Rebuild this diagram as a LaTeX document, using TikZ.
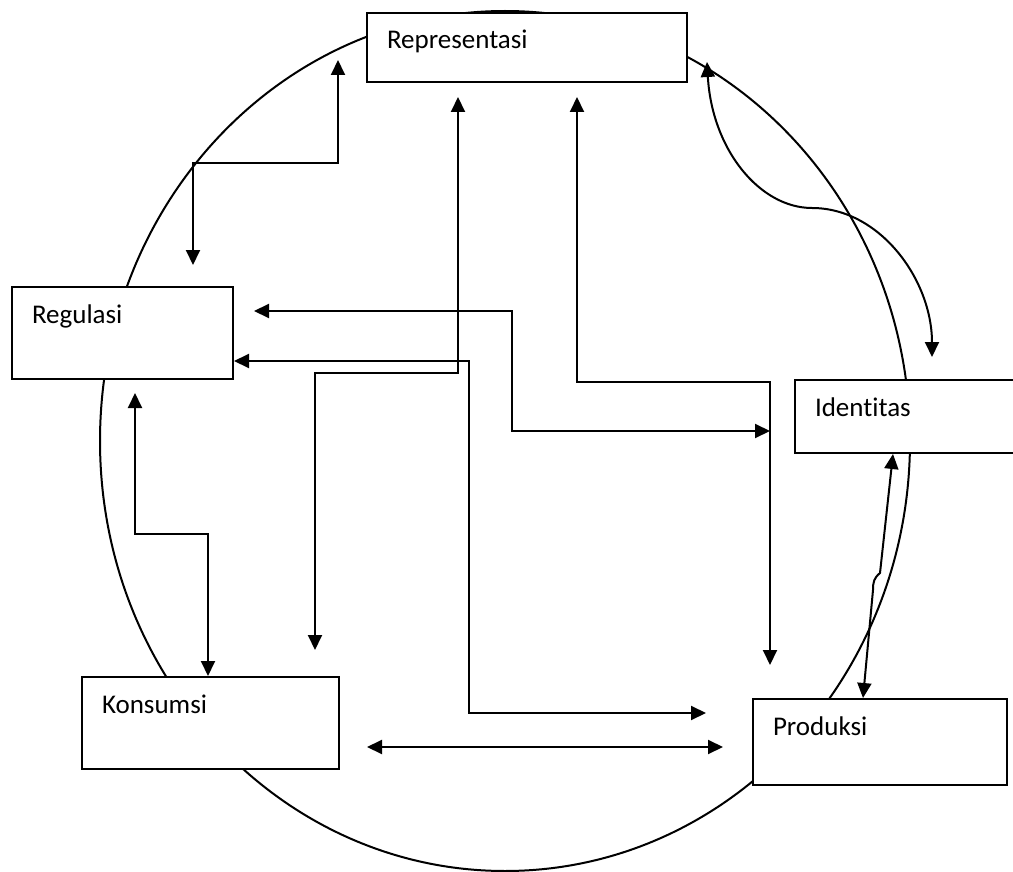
\documentclass[tikz,border=0pt]{standalone}
\usepackage{fontspec}
\setmainfont{Carlito}[Ligatures=NoCommon]
\usetikzlibrary{arrows.meta}
\tikzset{
  kotak/.style={draw,fill=white,line width=2pt,anchor=north west,align=left,
    inner xsep=20pt,inner ysep=0pt,text height=36pt,font=\fontsize{27}{30}\selectfont},
  hub/.style={line width=2pt,
    {Triangle[length=15pt,width=14pt]}-{Triangle[length=15pt,width=14pt]}}
}
\begin{document}
\begin{tikzpicture}[x=1pt,y=-1pt]
\useasboundingbox (0,0) rectangle (1013,872);
\draw[line width=2pt] (505,441) ellipse [x radius=405pt, y radius=430pt]; % lingkaran budaya
% kotak
\node[kotak,text width=280pt,text depth=33pt] (rep) at (366,12) {Representasi};
\node[kotak,text width=181pt,text depth=56pt] (reg) at (11,286) {Regulasi};
\node[kotak,text width=240pt,text depth=37pt] (ide) at (794,379) {Identitas};
\node[kotak,text width=217pt,text depth=56pt] (kon) at (81,676) {Konsumsi};
\node[kotak,text width=214pt,text depth=50pt] (pro) at (752,698) {Produksi};
% ujung panah
\coordinate (reg1) at (193,265); \coordinate (rep1) at (338,60);
\coordinate (reg2) at (254,311); \coordinate (pro2) at (770,431);
\coordinate (rep3) at (577,97);  \coordinate (pro3) at (770,665);
\coordinate (rep4) at (458,97);  \coordinate (kon4) at (315,650);
\coordinate (pro5) at (706,713);
\coordinate (kon6) at (367,747); \coordinate (pro6) at (723,747);
\coordinate (reg7) at (135,393);
\coordinate (rep9) at (707,62);  \coordinate (ide9) at (932,357);
% garis
\draw[hub] (reg1) |- (rep1 |- 0,163) -- (rep1);
\draw[hub] (reg2) -| (512,431) -- (pro2);
\draw[hub] (rep3) |- (pro3 |- 0,382) -- (pro3);
\draw[hub] (rep4) |- (kon4 |- 0,373) -- (kon4);
\draw[hub] ([yshift=-28pt]reg.east) -| (469,713) -- (pro5);
\draw[hub] (kon6) -- (pro6);
\draw[hub] (reg7) |- (208,534) -- (kon.north west -| 208,0);
\draw[hub] (ide.south -| 893,0) -- (880,573) .. controls (874,578) and (873,582) .. (873,590)
  -- (pro.north -| 863,0);
\draw[hub] (rep9) .. controls (712,150) and (760,208) .. (812,208)
  .. controls (880,208) and (932,280) .. (ide9);
\end{tikzpicture}
\end{document}
